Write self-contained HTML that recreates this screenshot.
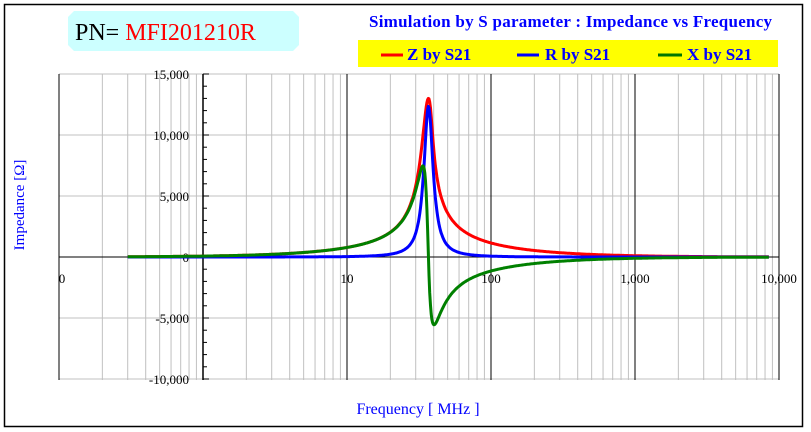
<!DOCTYPE html>
<html><head><meta charset="utf-8"><style>
body{margin:0;background:#fff;}
svg{display:block;font-family:"Liberation Serif",serif;}
</style></head><body>
<svg id="s" width="811" height="432" xmlns="http://www.w3.org/2000/svg">
<rect x="4.5" y="4.5" width="798" height="422" fill="#fff" stroke="#000" stroke-width="1.5"/>
<path d="M74 11 H293 L299 17 V45 L293 51 H74 L68 45 V17 Z" fill="#ccffff"/>
<text x="75" y="40" font-size="24" fill="#000">PN= <tspan fill="#ff0000">MFI201210R</tspan></text>
<text x="369" y="27" font-size="17" fill="#0000ff" font-weight="bold" textLength="403">Simulation by S parameter : Impedance vs Frequency</text>
<rect x="358" y="40" width="420" height="27" fill="#ffff00"/>
<line x1="381" y1="55" x2="403" y2="55" stroke="#ff0000" stroke-width="3"/>
<text x="407" y="60" font-size="17" fill="#0000ff" font-weight="bold">Z by S21</text>
<line x1="517" y1="55" x2="539" y2="55" stroke="#0000ff" stroke-width="3"/>
<text x="545" y="60" font-size="17" fill="#0000ff" font-weight="bold">R by S21</text>
<line x1="658" y1="55" x2="682" y2="55" stroke="#007700" stroke-width="3"/>
<text x="687" y="60" font-size="17" fill="#0000ff" font-weight="bold">X by S21</text>
<g id="grid"></g>
<g id="curves" fill="none" stroke-width="3" stroke-linejoin="round"></g>
<text transform="translate(24,205) rotate(-90)" font-size="15" fill="#0000ff" text-anchor="middle">Impedance [Ω]</text>
<text x="418" y="414" font-size="16" fill="#0000ff" text-anchor="middle">Frequency [ MHz ]</text>
</svg>
<script>
const NS="http://www.w3.org/2000/svg";
const g=document.getElementById('grid'),c=document.getElementById('curves');
function el(p,t,a,txt){const e=document.createElementNS(NS,t);for(const k in a)e.setAttribute(k,a[k]);if(txt)e.textContent=txt;p.appendChild(e);return e;}
const X=f=>203+144*Math.log10(f), Y=v=>257-v*61/5000;
const T=74,B=380,L=59,R=779;
for(let d=-1;d<4;d++){for(let m=2;m<10;m++){const x=X(m*Math.pow(10,d));el(g,'line',{x1:x,y1:T,x2:x,y2:B,stroke:'#c0c0c0','stroke-width':1});}}
[15000,10000,5000,-5000,-10000].forEach(v=>el(g,'line',{x1:L,y1:Y(v),x2:R,y2:Y(v),stroke:'#c0c0c0','stroke-width':1}));
[0.1,10,100,1000,10000].forEach(f=>{const x=X(f);el(g,'line',{x1:x,y1:T,x2:x,y2:B,stroke:'#000','stroke-width':1});});
el(g,'line',{x1:L,y1:Y(0),x2:R,y2:Y(0),stroke:'#000','stroke-width':1});
el(g,'line',{x1:203,y1:T,x2:203,y2:B,stroke:'#000','stroke-width':1.5});
for(let v=-10000;v<=15000;v+=1000){el(g,'line',{x1:203,y1:Y(v),x2:v%5000?207:209,y2:Y(v),stroke:'#000','stroke-width':1});}
const lab={15000:'15,000',10000:'10,000',5000:'5,000',0:'0','-5000':'-5,000','-10000':'-10,000'};
for(const v in lab)el(g,'text',{x:189,y:Y(+v)+5,'font-size':13,'text-anchor':'end',fill:'#000'},lab[v]);
[[0.1,'0'],[10,'10'],[100,'100'],[1000,'1,000'],[10000,'10,000']].forEach(([f,t])=>el(g,'text',{x:X(f)+(f==0.1?3:0),y:283,'font-size':13,'text-anchor':'middle',fill:'#000'},t));
const Rp=13000,f0=36.8,Q=5.6;
function z(f){const u=f/f0-f0/f;const d=1+Q*Q*u*u;let re=Rp/d,im=-Rp*Q*u/d;if(im<0){im*=1.25;im=im/(1+(-im)/17600);}else im*=1.15;return [re,im];}
let pz='',pr='',px='';
for(let i=0;i<=900;i++){const lf=Math.log10(0.3)+i*(Math.log10(8500)-Math.log10(0.3))/900;const f=Math.pow(10,lf);const [re,im]=z(f);const x=X(f).toFixed(1);
pz+=x+','+Y(Math.hypot(re,im)).toFixed(1)+' ';pr+=x+','+Y(re*0.95).toFixed(1)+' ';px+=x+','+Y(im).toFixed(1)+' ';}
el(c,'polyline',{points:pz,stroke:'#ff0000'});
el(c,'polyline',{points:pr,stroke:'#0000ff'});
el(c,'polyline',{points:px,stroke:'#008000'});
</script>
</body></html>
